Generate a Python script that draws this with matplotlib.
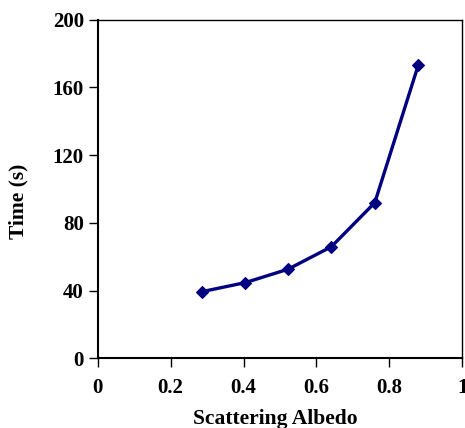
import matplotlib
matplotlib.use("Agg")
import matplotlib.pyplot as plt

albedo = [0.285, 0.405, 0.522, 0.641, 0.760, 0.879]
time_s = [39.3, 44.7, 52.6, 65.9, 91.9, 173.0]
xticks = [0, 0.2, 0.4, 0.6, 0.8, 1]
xtick_labels = ["0", "0.2", "0.4", "0.6", "0.8", "1"]
yticks = [0, 40, 80, 120, 160, 200]

plt.rcParams['font.family'] = ['Liberation Serif', 'DejaVu Serif']
plt.rcParams['font.weight'] = 'bold'

fig = plt.figure(figsize=(4.65, 4.28), dpi=100)
ax = fig.add_axes([0.210, 0.1629, 0.7842, 0.7911])
ax.plot(albedo, time_s, color='#000080', linewidth=2.4, marker='D',
        markersize=6.3, markeredgewidth=0.8, markeredgecolor='#000080',
        markerfacecolor='#000080', clip_on=False)
ax.set_xlim(0, 1)
ax.set_ylim(0, 200)
ax.set_xticks(xticks)
ax.set_xticklabels(xtick_labels)
ax.set_yticks(yticks)
for s in ax.spines.values():
    s.set_linewidth(1.0)
ax.spines['left'].set_linewidth(1.5)
ax.spines['bottom'].set_linewidth(1.5)
ax.tick_params(direction='out', length=6.5, width=1.0, labelsize=15)
ax.tick_params(axis='x', pad=8)
ax.tick_params(axis='y', pad=3.5)
for lab in ax.get_xticklabels() + ax.get_yticklabels():
    lab.set_fontweight('bold')
ax.set_xlabel("Scattering Albedo", fontsize=15.5, fontweight='bold')
ax.set_ylabel("Time (s)", fontsize=15.5, fontweight='bold')
ax.xaxis.set_label_coords(0.486, -0.150)
ax.yaxis.set_label_coords(-0.190, 0.465)
fig.savefig("out.png", dpi=100)
